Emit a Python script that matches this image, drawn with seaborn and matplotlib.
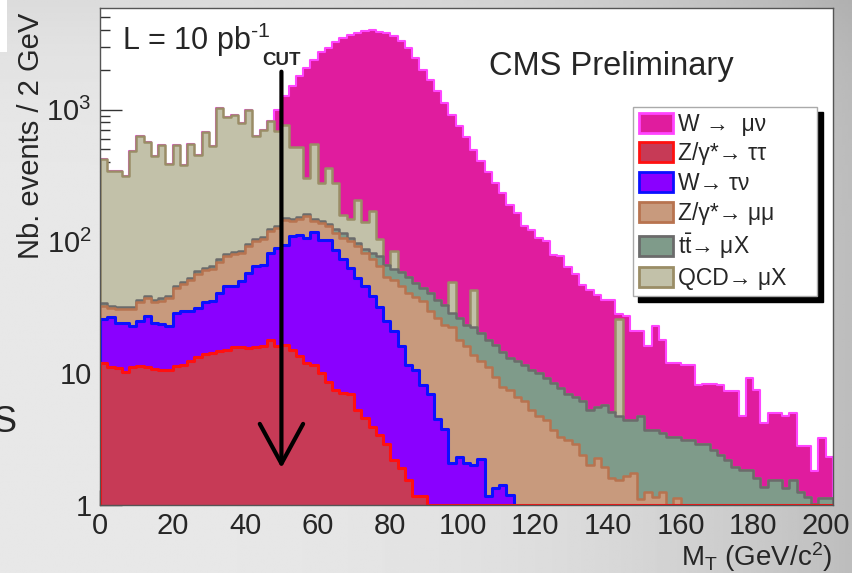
import numpy as np
import matplotlib
matplotlib.use("Agg")
import matplotlib.pyplot as plt
import seaborn as sns
from matplotlib.patches import Patch, Rectangle
from matplotlib.ticker import (FixedLocator, FixedFormatter, NullFormatter,
                               MultipleLocator, LogLocator)

sns.set_style("ticks")
plt.rcParams['font.family'] = ['Liberation Sans', 'DejaVu Sans']
plt.rcParams['mathtext.fontset'] = 'custom'
plt.rcParams['mathtext.rm'] = 'Liberation Sans'
plt.rcParams['mathtext.it'] = 'Liberation Sans:italic'
plt.rcParams['mathtext.bf'] = 'Liberation Sans:bold'

# ---------------- data: M_T histogram, 2 GeV bins, 0..202 GeV ----------------
mt_bin_edges = list(range(0, 204, 2))
mt_bin_centers = [e + 1 for e in mt_bin_edges[:-1]]

# top of each stacked layer (events / 2 GeV)
w_munu_top = [
    424, 340, 340, 316, 488, 626, 565, 441, 535, 386,
    535, 382, 551, 455, 671, 526, 1028, 879, 915, 785,
    986, 634, 695, 813, 1000, 1259, 1500, 1808, 2070, 2393,
    2718, 2933, 3236, 3494, 3707, 3815, 3926, 3999, 3890, 3815,
    3640, 3296, 2933, 2462, 2009, 1688, 1374, 1122, 915, 746,
    615, 496, 404, 334, 277, 233, 190, 164, 130, 122,
    106, 100, 79, 77, 64, 57, 47, 43, 39, 36,
    36, 28, 27, 21, 21, 16, 23, 18, 12, 12,
    11.6, 11.6, 8.1, 8.3, 8.3, 8.1, 7.3, 7.3, 4.7, 9.2,
    7.5, 4.2, 5.0, 5.0, 4.7, 5.0, 2.8, 2.8, 1.8, 3.2,
    2.3]
qcd_top = [
    424, 340, 340, 316, 488, 626, 565, 441, 535, 386,
    535, 382, 551, 455, 671, 526, 1028, 879, 915, 785,
    986, 634, 695, 813, 684, 768, 520, 520, 302, 548,
    277, 360, 277, 159, 148, 207, 140, 171, 105, 66.5,
    85, 59, 54, 48, 44, 40.5, 36, 33, 49.6, 26.2,
    23.3, 43, 20.1, 17.9, 16.4, 14.6, 13, 12.3, 11.6, 10.6,
    10, 9.2, 8.4, 7.7, 7.0, 6.6, 6.1, 5.3, 5.5, 5.7,
    5.1, 26, 4.4, 4.4, 4.7, 3.7, 3.7, 3.5, 3.3, 3.3,
    3.1, 3.1, 2.9, 2.9, 2.6, 2.4, 2.2, 1.95, 1.85, 1.85,
    1.6, 1.38, 1.55, 1.55, 1.34, 1.55, 1.26, 1.16, 1.02, 1.13,
    1.13]
ttbar_top = [
    34, 32.5, 32, 32, 32, 36, 38.5, 36, 37, 38.5,
    46, 49.5, 53, 59.5, 63, 64.5, 73, 80, 83, 84.5,
    95, 104, 108, 124, 131, 151, 147, 153, 160, 148,
    144, 136, 124, 116, 106, 98, 88, 81.5, 77, 66.5,
    62, 59, 54, 48, 44, 40.5, 36, 33, 28.5, 26.2,
    23.3, 22.6, 20.1, 17.9, 16.4, 14.6, 13, 12.3, 11.6, 10.6,
    10, 9.2, 8.4, 7.7, 7.0, 6.6, 6.1, 5.3, 5.5, 5.7,
    5.1, 4.7, 4.4, 4.4, 4.7, 3.7, 3.7, 3.5, 3.3, 3.3,
    3.1, 3.1, 2.9, 2.9, 2.6, 2.4, 2.2, 1.95, 1.85, 1.85,
    1.6, 1.38, 1.55, 1.55, 1.34, 1.55, 1.26, 1.16, 1.02, 1.13,
    1.13]
z_mumu_top = [
    32.4, 31, 30.6, 30.6, 30.6, 34.4, 37, 34.4, 35.6, 37,
    44, 47.6, 51, 57, 61, 62, 70, 77, 80, 81,
    91.5, 100, 104, 119, 126, 146, 142, 148, 155, 142,
    138, 130, 116, 106, 100, 92, 81, 73, 65, 54,
    51, 45.5, 40.5, 38, 35, 29.4, 26.2, 23.3, 22.6, 17.9,
    16, 13.8, 12.3, 11.2, 9.4, 7.9, 7.5, 6.6, 6.1, 5.3,
    4.7, 4.4, 3.7, 3.3, 3.1, 2.9, 2.4, 2.0, 2.26, 1.95,
    1.6, 1.55, 1.65, 1.75, 1.12, 1.25, 1.16, 1.26, 0, 1.13,
    0, 0, 0, 0, 0, 0, 0, 0, 0, 0,
    0, 0, 0, 0, 0, 0, 0, 0, 0, 0,
    0]
w_taunu_top = [
    25.7, 26.6, 23.9, 23.9, 22.9, 25.1, 27.4, 23.9, 23.5, 22.9,
    28.5, 29.7, 29.7, 31.1, 34.4, 35, 40.5, 45.5, 45.5, 49.7,
    57.4, 64.5, 66.5, 81.5, 89, 94, 110, 112, 106, 117,
    103, 103, 86, 74, 63, 53, 45.5, 38.6, 32, 25,
    21, 16, 11.5, 10.6, 8.1, 7.0, 4.5, 3.8, 2.1, 2.3,
    2.07, 2.0, 2.24, 1.18, 1.35, 1.42, 1.2, 0, 0, 0,
    0, 0, 0, 0, 0, 0, 0, 0, 0, 0,
    0, 0, 0, 0, 0, 0, 0, 0, 0, 0,
    0, 0, 0, 0, 0, 0, 0, 0, 0, 0,
    0, 0, 0, 0, 0, 0, 0, 0, 0, 0,
    0]
z_tautau_top = [
    11.9, 11.2, 10.9, 10.3, 11.1, 11.3, 11.1, 10.7, 10.5, 10.6,
    11.3, 11.5, 12.4, 13.2, 13.9, 14.3, 14.7, 15.1, 15.8, 15.8,
    15.6, 15.8, 16.0, 17.9, 16.0, 16.4, 15.0, 13.4, 11.9, 11.5,
    10.0, 8.6, 7.5, 7.1, 6.9, 5.3, 4.6, 3.9, 3.4, 2.9,
    2.2, 1.9, 1.55, 1.17, 1.17, 1, 1, 1, 1, 1,
    1, 1, 1, 1, 1, 1, 1, 1, 1, 1,
    1, 1, 1, 1, 1, 1, 1, 1, 1, 1,
    1, 1, 1, 1, 1, 1, 1, 1, 1, 1,
    1, 1, 1, 1, 1, 1, 1, 1, 1, 1,
    1, 1, 1, 1, 1, 1, 1, 1, 1, 1,
    1]

process_labels = ["W →  μν", "Z/γ*→ ττ", "W→ τν", "Z/γ*→ μμ",
                  r"$\mathrm{t\bar{t}}$→ μX", "QCD→ μX"]
cut_value = 50
x_tick_values = [0, 20, 40, 60, 80, 100, 120, 140, 160, 180, 200]
y_tick_values = [1, 10, 100, 1000]
y_tick_labels = ["1", "10", r"$10^{2}$", r"$10^{3}$"]

# ---------------- styles ----------------
styles = {
    "wmn": dict(fc="#e01c9e", ec="#ff44ff", lw=1.5),
    "ztt": dict(fc="#c73a56", ec="#ff1010", lw=2.2),
    "wtn": dict(fc="#8a00ff", ec="#0a10ff", lw=2.2),
    "zmm": dict(fc="#c89a7d", ec="#b8734f", lw=1.8),
    "tt":  dict(fc="#7f9b8a", ec="#6b6b6b", lw=1.8),
    "qcd": dict(fc="#c2c1a9", ec="#9a8d66", lw=1.8),
}

fig = plt.figure(figsize=(8.52, 5.73), dpi=100)

# slide-like grey background
bg = fig.add_axes([0, 0, 1, 1], zorder=-10)
gx = np.linspace(0, 1, 300)
gy = np.linspace(0, 1, 200)
GX, GY = np.meshgrid(gx, gy)
grad = 0.91 - 0.17 * GX ** 3 - 0.05 * GY ** 8
bg.imshow(grad, extent=[0, 1, 0, 1], origin="lower", aspect="auto",
          cmap="gray", vmin=0, vmax=1)
bg.set_xlim(0, 1)
bg.set_ylim(0, 1)
bg.axis("off")
fig.patches.append(Rectangle((0, 1 - 52 / 573), 7 / 852, 52 / 573,
                             transform=fig.transFigure, facecolor="white",
                             edgecolor="none", zorder=-5))

ax = fig.add_axes([100 / 852, 68 / 573, 733 / 852, 497 / 573])
ax.set_facecolor("white")

layers = [("wmn", w_munu_top), ("qcd", qcd_top), ("tt", ttbar_top),
          ("zmm", z_mumu_top), ("wtn", w_taunu_top), ("ztt", z_tautau_top)]
for key, vals in layers:
    st = styles[key]
    sns.histplot(x=mt_bin_centers, weights=vals, bins=mt_bin_edges,
                 element="step", fill=True, facecolor=st["fc"],
                 edgecolor=st["ec"], linewidth=st["lw"], alpha=1,
                 ax=ax, legend=False)

ax.set_yscale("log")
ax.set_xlim(0, 202)
ax.set_ylim(1, 5900)
ax.set_xlabel("")
ax.set_ylabel("")

ax.xaxis.set_major_locator(FixedLocator(x_tick_values))
ax.xaxis.set_minor_locator(MultipleLocator(5))
ax.yaxis.set_major_locator(FixedLocator(y_tick_values))
ax.yaxis.set_major_formatter(FixedFormatter(y_tick_labels))
ax.yaxis.set_minor_locator(LogLocator(base=10, subs=np.arange(2, 10)))
ax.yaxis.set_minor_formatter(NullFormatter())
ax.tick_params(axis="both", which="both", direction="in", top=False,
               right=False, color="#333333", width=1.0, labelsize=21)
ax.tick_params(axis="x", which="major", length=11, pad=5)
ax.tick_params(axis="x", which="minor", length=5)
ax.tick_params(axis="y", which="major", length=16, pad=6)
ax.tick_params(axis="y", which="minor", length=7)
for sp in ax.spines.values():
    sp.set_color("#555555")
    sp.set_linewidth(1.0)
    sp.set_visible(True)
    sp.set_zorder(10)

# cut arrow
ax.annotate("", xy=(cut_value, 1.91), xytext=(cut_value, 1940),
            arrowprops=dict(arrowstyle="->,head_length=1.43,head_width=0.78",
                            lw=3, color="black", shrinkA=0, shrinkB=0,
                            mutation_scale=20), zorder=20)
ax.text(cut_value, 0.885, "CUT", transform=ax.get_xaxis_transform(),
        ha="center", va="baseline", fontsize=13.5, fontweight="bold")

ax.text(0.030, 0.9155, r"L = 10 pb$^{\text{-1}}$", transform=ax.transAxes,
        ha="left", va="baseline", fontsize=22)
ax.text(0.5307, 0.865, "CMS Preliminary", transform=ax.transAxes,
        ha="left", va="baseline", fontsize=23.5)

# legend (labels padded on the right like the ROOT legend box)
handles = [Patch(facecolor=styles[k]["fc"], edgecolor=styles[k]["ec"],
                 linewidth=2) for k in ["wmn", "ztt", "wtn", "zmm", "tt", "qcd"]]
padded_labels = [lab + "\u00a0\u00a0\u00a0\u00a0" for lab in process_labels]
leg = ax.legend(handles, padded_labels, loc="upper left",
                bbox_to_anchor=(0.727, 0.801), frameon=True, fancybox=False,
                edgecolor="#aaaaaa", facecolor="white", framealpha=1,
                fontsize=16.5, handlelength=1.48, handleheight=0.96,
                handletextpad=0.22, labelspacing=0.29, borderpad=0.25,
                borderaxespad=0,
                shadow={"ox": 4, "oy": -4, "color": "black", "alpha": 1})
leg.get_frame().set_linewidth(1.0)
leg.set_zorder(30)

# axis titles (ROOT style)
fig.text(31 / 852, 1 - 13 / 573, "Nb. events / 2 GeV", rotation=90,
         ha="center", va="top", fontsize=21)
fig.text(832 / 852, 7 / 573, r"M$_{\rm T}$ (GeV/c$^{2}$)", ha="right",
         va="baseline", fontsize=20)

# slide text fragment at left edge
fig.text(16 / 852, 1 - 432 / 573, "S", ha="right", va="baseline",
         fontsize=26)

fig.savefig("out.png", dpi=100)
